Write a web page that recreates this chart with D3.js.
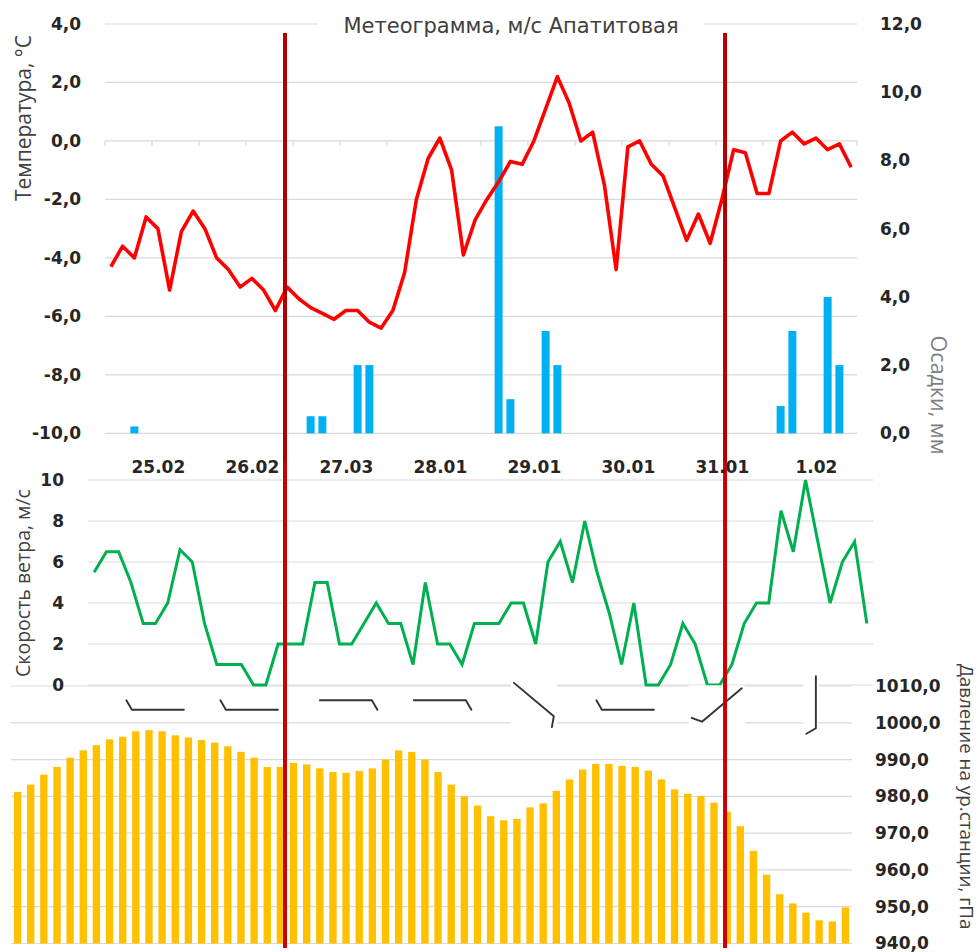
<!DOCTYPE html>
<html>
<head>
<meta charset="utf-8">
<script src="https://cdn.jsdelivr.net/npm/d3@7"></script>
<style>
  body { margin: 0; background: #fff; }
  svg { display: block; }
</style>
</head>
<body>
<svg id="chart" width="980" height="952"></svg>
<script>
// ---- data: 3-hourly observations, 8 per day ----
const steps = d3.range(64);
const dayLabels = ["25.02", "26.02", "27.03", "28.01", "29.01", "30.01", "31.01", "1.02"];
const dayLabelSteps = [4, 12, 20, 28, 36, 44, 52, 60];

const temperature = [
  -4.3, -3.6, -4.0, -2.6, -3.0, -5.1, -3.1, -2.4,
  -3.0, -4.0, -4.4, -5.0, -4.7, -5.1, -5.8, -5.0,
  -5.4, -5.7, -5.9, -6.1, -5.8, -5.8, -6.2, -6.4,
  -5.8, -4.5, -2.0, -0.6, 0.1, -1.0, -3.9, -2.7,
  -2.0, -1.4, -0.7, -0.8, 0.0, 1.1, 2.2, 1.3,
  0.0, 0.3, -1.5, -4.4, -0.2, 0.0, -0.8, -1.2,
  -2.3, -3.4, -2.5, -3.5, -2.0, -0.3, -0.4, -1.8,
  -1.8, 0.0, 0.3, -0.1, 0.1, -0.3, -0.1, -0.9
];

const precipitation = [
  0, 0, 0.2, 0, 0, 0, 0, 0,
  0, 0, 0, 0, 0, 0, 0, 0,
  0, 0.5, 0.5, 0, 0, 2.0, 2.0, 0,
  0, 0, 0, 0, 0, 0, 0, 0,
  0, 9.0, 1.0, 0, 0, 3.0, 2.0, 0,
  0, 0, 0, 0, 0, 0, 0, 0,
  0, 0, 0, 0, 0, 0, 0, 0,
  0, 0.8, 3.0, 0, 0, 4.0, 2.0, 0
];

const windSpeed = [
  5.5, 6.5, 6.5, 5.0, 3.0, 3.0, 4.0, 6.6,
  6.0, 3.0, 1.0, 1.0, 1.0, 0, 0, 2,
  2, 2, 5, 5, 2, 2, 3, 4,
  3, 3, 1, 5, 2, 2, 1, 3,
  3, 3, 4, 4, 2, 6, 7, 5,
  8, 5.5, 3.5, 1, 4, 0, 0, 1,
  3, 2, 0, 0, 1, 3, 4, 4,
  8.5, 6.5, 10, 7, 4, 6, 7, 3
];

const pressure = [
  981.2, 983.2, 985.9, 988.0, 990.5, 992.5, 993.9, 995.5,
  996.2, 997.7, 998.0, 997.7, 996.6, 996.0, 995.3, 994.6,
  993.6, 992.1, 990.5, 988.0, 988.0, 989.1, 988.7, 987.6,
  986.6, 986.4, 986.9, 987.6, 990.0, 992.5, 992.1, 990.0,
  986.6, 983.2, 980.0, 977.5, 974.6, 973.5, 973.9, 977.0,
  978.1, 981.5, 984.6, 987.3, 988.8, 988.8, 988.3, 988.0,
  987.0, 984.6, 981.9, 980.7, 980.1, 978.3, 975.8, 971.9,
  965.2, 958.7, 953.4, 950.9, 948.4, 946.3, 946.0, 949.8
];

// prevailing wind direction of each day, degrees (meteorological, "from")
const dailyWindDir = [270, 270, 90, 90, 130, 270, 230, 180];

// event markers, in 3-hour steps from the start of the period
const eventSteps = [15.32, 52.77];

// ---- layout ----
const svg = d3.select("#chart");
const GRID = "#d9d9d9";
const LABEL = "#262626";
const TITLE = "#404040";
const tickFont = '"DejaVu Sans", sans-serif';
const titleFont = '"Open Sans", sans-serif';

const comma = d3.formatLocale({ decimal: ",", thousands: " ", grouping: [3], currency: ["", ""], minus: "-" });
const f1 = comma.format(".1f");

// top panel: temperature + precipitation
const xTop = d3.scaleBand().domain(steps).range([105, 857]).paddingInner(0.32).paddingOuter(0.16);
const xTopLin = d3.scaleLinear().domain([0, steps.length]).range([105, 857]);
const yT = d3.scaleLinear().domain([-10, 4]).range([433.3, 24]);
const yR = d3.scaleLinear().domain([0, 12]).range([433.3, 24]);

// middle panel: wind speed
const xWind = d3.scaleBand().domain(steps).range([88, 873]);
const yW = d3.scaleLinear().domain([0, 10]).range([685, 480]);

// bottom panel: station pressure
const xP = d3.scaleBand().domain(steps).range([11, 852]).paddingInner(0.44).paddingOuter(0.22);
const yP = d3.scaleLinear().domain([940, 1010]).range([943.5, 686]);

const mid = (s, i) => s(i) + s.bandwidth() / 2;

// ---- gridlines ----
const grid = svg.append("g").attr("stroke", GRID).attr("stroke-width", 1.2);
grid.selectAll(".gt").data(yT.ticks(7)).join("line")
  .attr("x1", 105).attr("x2", 857).attr("y1", d => yT(d)).attr("y2", d => yT(d));
grid.selectAll(".gw").data(yW.ticks(5)).join("line")
  .attr("x1", 88).attr("x2", 873).attr("y1", d => yW(d)).attr("y2", d => yW(d));
grid.selectAll(".gp").data(yP.ticks(7)).join("line")
  .attr("x1", 11).attr("x2", 852).attr("y1", d => yP(d)).attr("y2", d => yP(d));

// category ticks along the 0 °C line, every 12 hours
grid.selectAll(".ct").data(d3.range(0, steps.length + 1, 4)).join("line")
  .attr("x1", d => xTopLin(d)).attr("x2", d => xTopLin(d))
  .attr("y1", yT(0)).attr("y2", yT(0) + 5);

// ---- precipitation bars ----
svg.append("g").attr("fill", "#00B0F0")
  .selectAll("rect").data(steps.filter(i => precipitation[i] > 0)).join("rect")
  .attr("x", i => xTop(i)).attr("width", xTop.bandwidth())
  .attr("y", i => yR(precipitation[i])).attr("height", i => yR(0) - yR(precipitation[i]));

// ---- temperature line ----
svg.append("path")
  .datum(steps)
  .attr("fill", "none").attr("stroke", "#FF0000").attr("stroke-width", 3.6)
  .attr("stroke-linejoin", "round")
  .attr("d", d3.line().x(i => mid(xTop, i)).y(i => yT(temperature[i])));

// ---- pressure bars ----
svg.append("g").attr("fill", "#FFC000")
  .selectAll("rect").data(steps).join("rect")
  .attr("x", i => xP(i)).attr("width", xP.bandwidth())
  .attr("y", i => yP(pressure[i])).attr("height", i => yP(940) - yP(pressure[i]));

// ---- wind speed line ----
svg.append("path")
  .datum(steps)
  .attr("fill", "none").attr("stroke", "#00B050").attr("stroke-width", 3)
  .attr("stroke-linejoin", "miter")
  .attr("d", d3.line().x(i => mid(xWind, i)).y(i => yW(windSpeed[i])));

// ---- daily wind barbs (glyph box centred under each day label) ----
const barbG = svg.append("g");
const shaft = 52, feather = 11, featherTurn = 60 * Math.PI / 180, barbRow = 705;
dailyWindDir.forEach((dir, k) => {
  const a = dir * Math.PI / 180;
  const ux = Math.sin(a), uy = -Math.cos(a);
  const fx = ux * Math.cos(featherTurn) - uy * Math.sin(featherTurn);
  const fy = ux * Math.sin(featherTurn) + uy * Math.cos(featherTurn);
  // glyph in local coordinates, shaft centred on the origin
  let pts = [
    [ux * shaft / 2 + fx * feather, uy * shaft / 2 + fy * feather],
    [ux * shaft / 2, uy * shaft / 2],
    [-ux * shaft / 2, -uy * shaft / 2]
  ];
  const ys = pts.map(p => p[1]);
  const dy = barbRow - (d3.min(ys) + d3.max(ys)) / 2;
  const cx = mid(xTop, dayLabelSteps[k]);
  pts = pts.map(p => [p[0] + cx, p[1] + dy]);
  const xs2 = pts.map(p => p[0]), ys2 = pts.map(p => p[1]);
  const pad = 3;
  barbG.append("rect")
    .attr("x", d3.min(xs2) - pad).attr("y", d3.min(ys2) - pad)
    .attr("width", d3.max(xs2) - d3.min(xs2) + 2 * pad)
    .attr("height", d3.max(ys2) - d3.min(ys2) + 2 * pad)
    .attr("fill", "#fff");
  barbG.append("path")
    .attr("d", d3.line()(pts))
    .attr("fill", "none").attr("stroke", "#333").attr("stroke-width", 1.9)
    .attr("stroke-linejoin", "round").attr("stroke-linecap", "round");
});

// ---- event markers ----
const markers = svg.append("g").attr("stroke-width", 4);
markers.selectAll(".mt").data(eventSteps).join("line")
  .attr("stroke", "#B20000")
  .attr("x1", d => xTopLin(d)).attr("x2", d => xTopLin(d)).attr("y1", 33).attr("y2", 462);
markers.selectAll(".mb").data(eventSteps).join("line")
  .attr("stroke", "#CC0000")
  .attr("x1", d => xTopLin(d)).attr("x2", d => xTopLin(d)).attr("y1", 462).attr("y2", 948);

// ---- axes ----
function styleAxis(g) {
  g.select(".domain").remove();
  g.selectAll(".tick line").remove();
  g.selectAll("text")
    .attr("fill", LABEL).style("font-family", tickFont)
    .style("font-weight", "bold").style("font-size", "17px");
}
svg.append("g").attr("transform", "translate(105,0)")
  .call(d3.axisLeft(yT).ticks(7).tickFormat(f1).tickSize(0).tickPadding(24)).call(styleAxis);
svg.append("g").attr("transform", "translate(857,0)")
  .call(d3.axisRight(yR).ticks(6).tickFormat(f1).tickSize(0).tickPadding(23)).call(styleAxis);
svg.append("g").attr("transform", "translate(88,0)")
  .call(d3.axisLeft(yW).ticks(5).tickFormat(d3.format("d")).tickSize(0).tickPadding(24)).call(styleAxis);
svg.append("g").attr("transform", "translate(852,0)")
  .call(d3.axisRight(yP).ticks(7).tickFormat(f1).tickSize(0).tickPadding(23)).call(styleAxis);

// day labels
const dayScale = d3.scaleOrdinal().domain(dayLabelSteps).range(dayLabels);
svg.append("g").attr("transform", "translate(0,473)")
  .call(d3.axisBottom(d3.scalePoint().domain(dayLabelSteps)
      .range([mid(xTop, dayLabelSteps[0]), mid(xTop, dayLabelSteps[dayLabelSteps.length - 1])]))
    .tickFormat(d => dayScale(d)).tickSize(0).tickPadding(0))
  .call(styleAxis)
  .selectAll("text").attr("dy", 0).attr("y", 0);

// ---- titles ----
const titleBg = svg.append("rect").attr("fill", "#fff");
const title = svg.append("text")
  .attr("x", 511).attr("y", 33).attr("text-anchor", "middle")
  .attr("fill", TITLE).style("font-family", tickFont).style("font-size", "21px")
  .text("Метеограмма, м/с Апатитовая");
const tb = title.node().getBBox();
titleBg.attr("x", tb.x - 25).attr("y", tb.y).attr("width", tb.width + 50).attr("height", tb.height);

function axisTitle(x, y, rot, text, color, size, anchor) {
  svg.append("text")
    .attr("transform", `translate(${x},${y}) rotate(${rot})`)
    .attr("text-anchor", anchor || "middle")
    .attr("fill", color).style("font-family", titleFont).style("font-size", size + "px")
    .text(text);
}
axisTitle(31, 118, -90, "Температура, °C", TITLE, 21);
axisTitle(30, 583, -90, "Скорость ветра, м/с", TITLE, 19.5);
axisTitle(931, 395, 90, "Осадки, мм", "#7f7f7f", 21.5);
axisTitle(960, 664, 90, "Давление на ур.станции, гПа", TITLE, 18.8, "start");
</script>
</body>
</html>
